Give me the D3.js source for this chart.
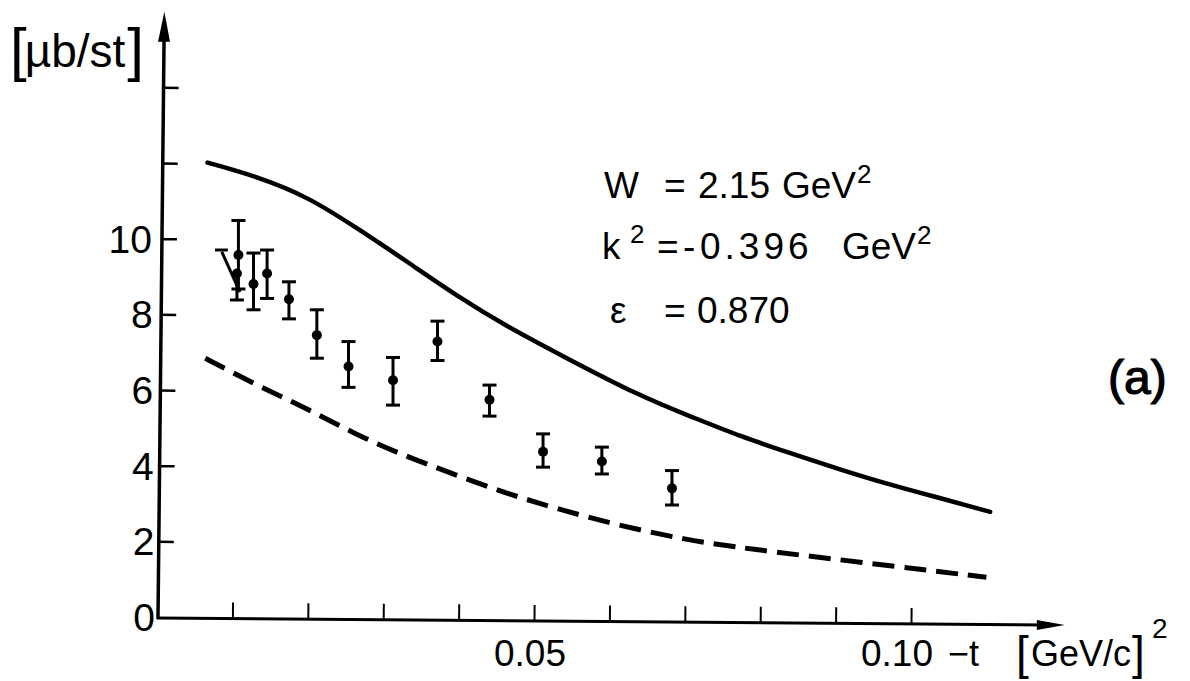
<!DOCTYPE html>
<html>
<head>
<meta charset="utf-8">
<script src="https://cdn.jsdelivr.net/npm/d3@7"></script>
<style>
  html, body { margin: 0; padding: 0; background: #fff; }
  svg { display: block; }
  text { font-family: "Liberation Sans", Arial, sans-serif; fill: #000; }
</style>
</head>
<body>
<svg id="chart" width="1190" height="681"></svg>
<script>
// Momentum transfer -t [GeV/c]^2 of the measured points
const tPoints = [0.0108, 0.0106, 0.0128, 0.0146, 0.0175, 0.0212, 0.0254, 0.0313, 0.0372, 0.0441, 0.0512, 0.0590, 0.0683];
// Cross section [µb/st]
const sigma   = [9.57, 9.08, 8.80, 9.08, 8.40, 7.45, 6.62, 6.26, 7.28, 5.74, 4.37, 4.11, 3.40];
const errLow  = [8.67, 8.38, 8.12, 8.42, 7.88, 6.84, 6.07, 5.60, 6.78, 5.31, 3.96, 3.78, 2.96];
const errHigh = [10.48, null, 9.62, 9.70, 8.86, 8.12, 7.28, 6.86, 7.82, 6.13, 4.84, 4.49, 3.87];
// upper error bar of the second point, drawn skewed
const skewBarT = [0.0086, 0.0110];
const skewBarS = [9.65, 8.59];
const skewCapT = [0.0077, 0.0094];
const skewCapS = 9.70;

// Model curves
const solidT = [0.0067, 0.0133, 0.0200, 0.0266, 0.0332, 0.0399, 0.0465, 0.0531, 0.0642, 0.0708, 0.0774, 0.0840, 0.0907, 0.0973, 0.1039, 0.1105];
const solidS = [12.01, 11.64, 11.11, 10.27, 9.39, 8.47, 7.67, 6.97, 5.82, 5.30, 4.77, 4.33, 3.89, 3.49, 3.14, 2.78];
const dashedT = [0.0064, 0.0132, 0.0198, 0.0265, 0.0331, 0.0397, 0.0463, 0.0529, 0.0610, 0.0701, 0.0784, 0.0932, 0.1100];
const dashedS = [6.84, 6.13, 5.52, 4.81, 4.24, 3.75, 3.27, 2.87, 2.43, 2.04, 1.80, 1.45, 1.05];

// Axis ticks
const xTicks = [0.01, 0.02, 0.03, 0.04, 0.05, 0.06, 0.07, 0.08, 0.09, 0.10];
const xTickLabels = {0.05: "0.05", 0.10: "0.10"};
const yTicks = [2, 4, 6, 8, 10, 12, 14];
const yTickLabels = [0, 2, 4, 6, 8, 10];

const svg = d3.select("#chart");
const x = d3.scaleLinear().domain([0, 0.10]).range([157, 911]);
const y = d3.scaleLinear().domain([0, 12]).range([617, 163]);

const x0 = x(0) + 1;
const yTop = y(16);
const xEnd = x(0.1204);
const yBase = y(0) + 1;

// frame is drawn slightly skewed, as on the original plate
const gYAxis = svg.append("g").attr("transform", `rotate(0.6,${x0},${yBase})`);
const gXAxis = svg.append("g").attr("transform", `rotate(0.45,${x0},${yBase})`);

// y axis with ticks pointing inward
const yAxis = d3.axisLeft(y).tickValues(yTicks).tickSizeInner(-15).tickSizeOuter(0).tickFormat("");
const gy = gYAxis.append("g").attr("transform", `translate(${x0},0)`).call(yAxis);
gy.select(".domain").remove();
gy.selectAll(".tick line").attr("stroke", "#000").attr("stroke-width", 2.5);

// x axis with ticks pointing upward
const xAxis = d3.axisBottom(x).tickValues(xTicks).tickSizeInner(-16).tickSizeOuter(0).tickFormat("");
const gx = gXAxis.append("g").attr("transform", `translate(0,${yBase})`).call(xAxis);
gx.select(".domain").remove();
gx.selectAll(".tick line").attr("stroke", "#000").attr("stroke-width", 2);

// axis lines and arrowheads
gYAxis.append("line").attr("x1", x0).attr("y1", yBase + 1).attr("x2", x0).attr("y2", yTop + 20)
  .attr("stroke", "#000").attr("stroke-width", 3.5);
gYAxis.append("path")
  .attr("d", `M${x0},${yTop} L${x0 - 6},${yTop + 30} L${x0 + 6},${yTop + 30} Z`)
  .attr("fill", "#000");
gXAxis.append("line").attr("x1", x0 - 1).attr("y1", yBase).attr("x2", xEnd - 20).attr("y2", yBase)
  .attr("stroke", "#000").attr("stroke-width", 3);
gXAxis.append("path")
  .attr("d", `M${xEnd},${yBase} L${xEnd - 28},${yBase - 5} L${xEnd - 28},${yBase + 5} Z`)
  .attr("fill", "#000");

// tick labels
svg.append("g").selectAll("text").data(yTickLabels).join("text")
  .attr("x", d => 152 + (10 - d) * 0.3).attr("y", d => y(d) + 14)
  .attr("text-anchor", "end").attr("font-size", 39)
  .text(d => d);
svg.append("g").selectAll("text").data(Object.keys(xTickLabels).map(Number)).join("text")
  .attr("x", d => x(d) - (d > 0.07 ? 14 : 4)).attr("y", 666)
  .attr("text-anchor", "middle").attr("font-size", 37)
  .text(d => xTickLabels[d]);

// axis titles
const yt = svg.append("text").attr("x", 10).attr("y", 67).attr("font-size", 46);
yt.append("tspan").attr("font-size", 60).attr("dy", 3).text("[");
yt.append("tspan").attr("dy", -3).attr("dx", -2).text("µb/st");
yt.append("tspan").attr("font-size", 60).attr("dy", 3).attr("dx", 2).text("]");

const xt = svg.append("text").attr("y", 666).attr("font-size", 36);
xt.append("tspan").attr("x", 948).text("\u2212t");
xt.append("tspan").attr("x", 1016).attr("font-size", 46).attr("dy", 3).text("[");
xt.append("tspan").attr("x", 1031).attr("dy", -3).text("GeV/c");
xt.append("tspan").attr("x", 1132).attr("font-size", 46).attr("dy", 3).text("]");
xt.append("tspan").attr("x", 1152).attr("font-size", 28).attr("dy", -31).text("2");

// model curves
const line = d3.line().x(d => x(d[0])).y(d => y(d[1])).curve(d3.curveBasis);
svg.append("path").datum(d3.zip(solidT, solidS)).attr("d", line)
  .attr("fill", "none").attr("stroke", "#000").attr("stroke-width", 4.5).attr("stroke-linecap", "round");
svg.append("path").datum(d3.zip(dashedT, dashedS)).attr("d", line)
  .attr("fill", "none").attr("stroke", "#000").attr("stroke-width", 5)
  .attr("stroke-dasharray", "22 10");

// data points with error bars
const pts = tPoints.map((t, i) => ({t, s: sigma[i], lo: errLow[i], hi: errHigh[i]}));
const capW = 7;
const gp = svg.append("g").attr("stroke", "#000").attr("stroke-width", 3);
pts.forEach(p => {
  const top = p.hi == null ? p.s : p.hi;
  gp.append("line").attr("x1", x(p.t)).attr("x2", x(p.t)).attr("y1", y(p.lo)).attr("y2", y(top));
  gp.append("line").attr("x1", x(p.t) - capW).attr("x2", x(p.t) + capW).attr("y1", y(p.lo)).attr("y2", y(p.lo));
  if (p.hi != null)
    gp.append("line").attr("x1", x(p.t) - capW).attr("x2", x(p.t) + capW).attr("y1", y(p.hi)).attr("y2", y(p.hi));
});
gp.append("line").attr("x1", x(skewBarT[0])).attr("y1", y(skewBarS[0]))
  .attr("x2", x(skewBarT[1])).attr("y2", y(skewBarS[1]));
gp.append("line").attr("x1", x(skewCapT[0])).attr("y1", y(skewCapS))
  .attr("x2", x(skewCapT[1])).attr("y2", y(skewCapS));
svg.append("g").selectAll("circle").data(pts).join("circle")
  .attr("cx", d => x(d.t)).attr("cy", d => y(d.s)).attr("r", 5).attr("fill", "#000");

// kinematics
const fs = 37, sup = 26;
const t1 = svg.append("text").attr("y", 198).attr("font-size", fs);
t1.append("tspan").attr("x", 604).text("W");
t1.append("tspan").attr("x", 664).text("=");
t1.append("tspan").attr("x", 698).text("2.15");
t1.append("tspan").attr("x", 782).text("GeV");
t1.append("tspan").attr("font-size", sup).attr("dy", -15).attr("dx", 1).text("2");

const t2 = svg.append("text").attr("y", 259).attr("font-size", fs);
t2.append("tspan").attr("x", 602).text("k");
t2.append("tspan").attr("x", 630).attr("font-size", sup).attr("dy", -16).text("2");
t2.append("tspan").attr("x", 657).attr("dy", 16).text("=");
t2.append("tspan").attr("x", 683).text("-");
t2.append("tspan").attr("x", 700).attr("letter-spacing", 4).text("0.396");
t2.append("tspan").attr("x", 842).text("GeV");
t2.append("tspan").attr("font-size", sup).attr("dy", -15).attr("dx", 1).text("2");

const t3 = svg.append("text").attr("y", 323).attr("font-size", fs);
t3.append("tspan").attr("x", 610).text("\u03b5");
t3.append("tspan").attr("x", 664).text("=");
t3.append("tspan").attr("x", 697).text("0.870");

svg.append("text").attr("x", 1108).attr("y", 394).attr("font-size", 48)
  .attr("stroke", "#000").attr("stroke-width", 1.2).text("(a)");
</script>
</body>
</html>
